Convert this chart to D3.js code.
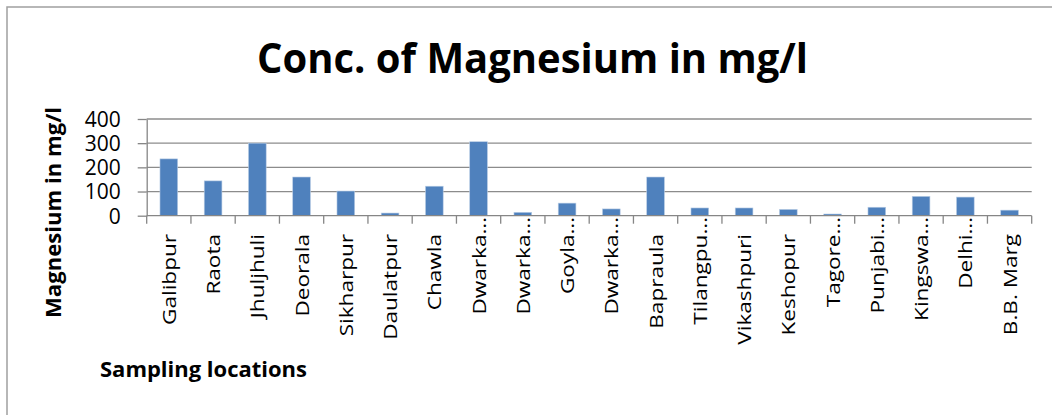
<!DOCTYPE html>
<html>
<head>
<meta charset="utf-8">
<script src="https://cdn.jsdelivr.net/npm/d3@7"></script>
<style>
  body { margin: 0; background: #fff; }
  text { font-family: "Open Sans", sans-serif; }
</style>
</head>
<body>
<div id="chart-area"></div>
<script>
// magnesium concentration per sampling location (mg/l)
const locations = ["Galibpur", "Raota", "Jhuljhuli", "Deorala", "Sikharpur",
  "Daulatpur", "Chawla", "Dwarka…", "Dwarka…", "Goyla…", "Dwarka…",
  "Bapraula", "Tilangpu…", "Vikashpuri", "Keshopur", "Tagore…", "Punjabi…",
  "Kingswa…", "Delhi…", "B.B. Marg"];
const magnesium = [235, 144, 300, 160, 102, 11, 122, 306, 14, 52, 28,
  160, 32, 32, 26, 7, 35, 80, 77, 23];
const yTicks = [0, 100, 200, 300, 400];

const W = 1052, H = 415;
const plotLeft = 146.7, plotRight = 1031.7, plotTop = 119, plotBottom = 215.7;

const svg = d3.select('#chart-area').append('svg')
  .attr('width', W)
  .attr('height', H);

// chart area border
svg.append('rect')
  .attr('x', 7).attr('y', 7)
  .attr('width', W + 10).attr('height', H + 10)
  .attr('fill', 'none')
  .attr('stroke', '#a0a0a0')
  .attr('stroke-width', 1.5);

const data = locations.map((name, i) => ({ id: i, name, value: magnesium[i] }));

const x = d3.scaleBand()
  .domain(data.map(d => d.id))
  .range([plotLeft, plotRight])
  .padding(0);

const y = d3.scaleLinear()
  .domain([0, 400])
  .range([plotBottom, plotTop]);

// gridlines
svg.append('g')
  .selectAll('line')
  .data(yTicks.filter(t => t > 0))
  .enter().append('line')
    .attr('x1', plotLeft).attr('x2', plotRight)
    .attr('y1', d => y(d)).attr('y2', d => y(d))
    .attr('stroke', '#8c8c8c')
    .attr('stroke-width', 1.3);

// bars
svg.append('g')
  .selectAll('rect')
  .data(data)
  .enter().append('rect')
    .attr('x', d => x(d.id) + x.bandwidth() * 0.3)
    .attr('y', d => y(d.value))
    .attr('width', x.bandwidth() * 0.4)
    .attr('height', d => y(0) - y(d.value))
    .attr('fill', '#4f81bd')
    .attr('stroke', '#b9cde5')
    .attr('stroke-width', 0.6);

// y axis
const yAxis = svg.append('g')
  .attr('transform', `translate(${plotLeft},0)`)
  .call(d3.axisLeft(y).tickValues(yTicks).tickSize(9).tickPadding(17).tickSizeOuter(0));
yAxis.select('.domain').attr('stroke', '#868686').attr('stroke-width', 1.3);
yAxis.selectAll('.tick line').attr('stroke', '#868686').attr('stroke-width', 1.3);
yAxis.selectAll('.tick text')
  .attr('font-size', 21)
  .attr('font-family', '"Open Sans", sans-serif')
  .attr('fill', '#000')
  .attr('dy', '0.35em');

// x axis line and ticks at category boundaries
svg.append('line')
  .attr('x1', plotLeft).attr('x2', plotRight)
  .attr('y1', plotBottom).attr('y2', plotBottom)
  .attr('stroke', '#868686')
  .attr('stroke-width', 1.3);

const bounds = data.map(d => x(d.id)).concat([plotRight]);
svg.append('g')
  .selectAll('line')
  .data(bounds)
  .enter().append('line')
    .attr('x1', d => d).attr('x2', d => d)
    .attr('y1', plotBottom).attr('y2', plotBottom + 8)
    .attr('stroke', '#868686')
    .attr('stroke-width', 1.3);

// category labels, rotated
svg.append('g')
  .selectAll('text')
  .data(data)
  .enter().append('text')
    .attr('transform', d => {
      const cx = x(d.id) + x.bandwidth() / 2 + 7;
      const cy = d.name.endsWith('…') ? 217 : 234;
      return `translate(${cx},${cy}) rotate(-90) scale(1.22,1)`;
    })
    .attr('text-anchor', 'end')
    .attr('font-size', 18.5)
    .attr('fill', '#000')
    .text(d => d.name);

// titles
svg.append('text')
  .attr('x', 257).attr('y', 73)
  .attr('font-size', 42)
  .attr('font-weight', 'bold')
  .attr('textLength', 551)
  .attr('lengthAdjust', 'spacingAndGlyphs')
  .text('Conc. of Magnesium in mg/l');

svg.append('text')
  .attr('transform', 'translate(61,318) rotate(-90)')
  .attr('font-size', 21)
  .attr('font-weight', 'bold')
  .attr('textLength', 211)
  .attr('lengthAdjust', 'spacingAndGlyphs')
  .text('Magnesium in mg/l');

svg.append('text')
  .attr('x', 100).attr('y', 377)
  .attr('font-size', 22)
  .attr('font-weight', 'bold')
  .attr('textLength', 207)
  .attr('lengthAdjust', 'spacingAndGlyphs')
  .text('Sampling locations');
</script>
</body>
</html>
